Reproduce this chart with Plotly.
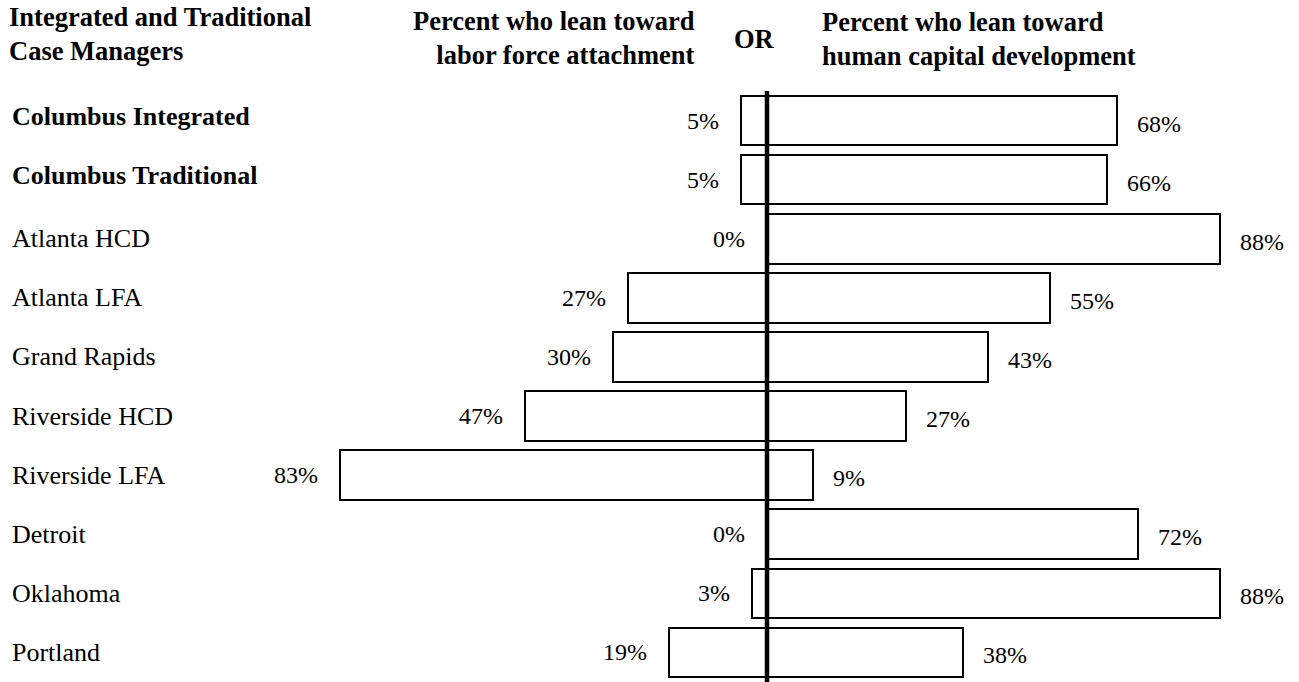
import plotly.graph_objects as go

categories = ["Columbus Integrated", "Columbus Traditional", "Atlanta HCD", "Atlanta LFA",
              "Grand Rapids", "Riverside HCD", "Riverside LFA", "Detroit", "Oklahoma", "Portland"]
bold_rows = ["Columbus Integrated", "Columbus Traditional"]
lfa_pct = [5, 5, 0, 27, 30, 47, 83, 0, 3, 19]
hcd_pct = [68, 66, 88, 55, 43, 27, 9, 72, 88, 38]

FONT = "Liberation Serif, Times New Roman, serif"
W, H = 1299, 682
TOP = 91
PLOT_H = H - TOP
CENTER_PX = 767
PX_PER_PCT = 5.15


def py(pix):
    """pixel row from top of figure -> paper y"""
    return 1 + (TOP - pix) / PLOT_H


fig = go.Figure()
fig.add_trace(go.Bar(
    y=categories,
    x=[l + r for l, r in zip(lfa_pct, hcd_pct)],
    base=[-l for l in lfa_pct],
    orientation="h",
    width=0.84,
    marker=dict(color="white", line=dict(color="black", width=2)),
    hoverinfo="skip",
    showlegend=False,
))

annotations = []
for cat, l, r in zip(categories, lfa_pct, hcd_pct):
    annotations.append(dict(x=-l, y=cat, xref="x", yref="y", text=f"{l}%", showarrow=False,
                            xanchor="right", xshift=-20, font=dict(family=FONT, size=24, color="black")))
    annotations.append(dict(x=r, y=cat, xref="x", yref="y", text=f"{r}%", showarrow=False,
                            xanchor="left", xshift=18, yshift=-3, font=dict(family=FONT, size=24, color="black")))
    bold = cat in bold_rows
    txt = f"<b>{cat}</b>" if bold else cat
    annotations.append(dict(x=10 / W, y=cat, xref="paper", yref="y", text=txt, showarrow=False,
                            xanchor="left", yshift=(4 if bold else 0),
                            font=dict(family=FONT, size=26, color="black")))

header_font = dict(family=FONT, size=26.5, color="black")
annotations += [
    dict(x=7 / W, y=py(34), xref="paper", yref="paper", yanchor="middle",
         text="<b>Integrated and Traditional<br>Case Managers</b>", showarrow=False,
         xanchor="left", align="left", font=header_font),
    dict(x=697 / W, y=py(38), xref="paper", yref="paper", yanchor="middle",
         text="<b>Percent who lean toward<br>labor force attachment</b>", showarrow=False,
         xanchor="right", align="right", font=header_font),
    dict(x=755 / W, y=py(39), xref="paper", yref="paper", yanchor="middle",
         text="<b>OR</b>", showarrow=False, xanchor="center", font=header_font),
    dict(x=820 / W, y=py(39), xref="paper", yref="paper", yanchor="middle",
         text="<b>Percent who lean toward<br>human capital development</b>", showarrow=False,
         xanchor="left", align="left", font=header_font),
]

fig.add_shape(type="line", xref="x", yref="paper", x0=0, x1=0, y0=0, y1=1,
              line=dict(color="black", width=4.5))

fig.update_layout(
    width=W, height=H,
    margin=dict(l=0, r=0, t=TOP, b=0, pad=0),
    paper_bgcolor="white", plot_bgcolor="white",
    xaxis=dict(range=[-CENTER_PX / PX_PER_PCT, (W - CENTER_PX) / PX_PER_PCT],
               visible=False, showgrid=False, zeroline=False, fixedrange=True),
    yaxis=dict(categoryorder="array", categoryarray=categories,
               range=[9.5, -0.5], autorange=False,
               visible=False, showgrid=False, zeroline=False, fixedrange=True),
    annotations=annotations,
    bargap=0,
)

fig.write_html("out.html", config={"displayModeBar": False},
               post_script="document.body.style.margin='0';document.body.style.overflow='hidden';")
